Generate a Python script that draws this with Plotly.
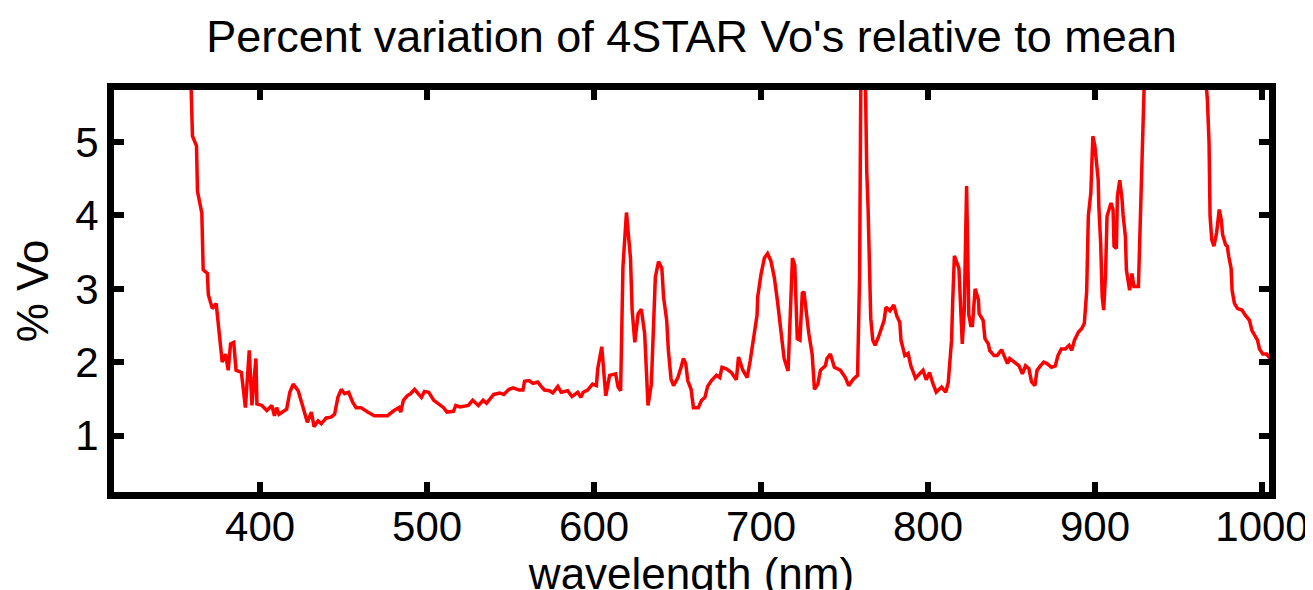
import plotly.graph_objects as go

# wavelength (nm) and percent variation of Vo
wavelength = [
    356.1, 358.6, 359.5, 361.9, 362.5, 365.1, 365.9, 368.4, 369.0, 371.4,
    373.7, 375.3, 377.3, 379.3, 380.9, 382.3, 384.2, 385.6, 388.8, 391.2,
    393.5, 395.1, 397.5, 398.1, 401.1, 404.0, 407.0, 408.6, 409.9, 411.3,
    415.9, 417.8, 419.8, 422.8, 425.8, 428.3, 430.7, 432.3, 434.7, 436.6,
    439.6, 442.5, 444.6, 446.6, 448.6, 450.6, 453.0, 455.5, 457.5, 460.4,
    464.4, 468.4, 472.3, 476.3, 480.2, 483.2, 484.2, 485.8, 488.1, 490.1,
    492.5, 495.1, 496.6, 498.4, 501.0, 504.0, 506.9, 509.9, 511.9, 515.8,
    517.2, 519.7, 524.7, 527.3, 530.7, 533.6, 535.6, 539.9, 543.5, 545.9,
    549.1, 551.5, 555.1, 557.4, 558.4, 561.0, 563.4, 566.3, 568.3, 570.3,
    573.3, 575.3, 578.3, 580.3, 584.2, 586.8, 590.2, 592.1, 593.5, 596.1,
    599.1, 601.4, 602.2, 604.6, 607.0, 609.3, 612.9, 614.4, 615.9, 617.3,
    619.4, 621.8, 622.8, 624.4, 626.4, 628.3, 630.3, 631.2, 632.3, 634.3,
    635.6, 636.7, 638.6, 640.6, 641.6, 643.5, 644.5, 646.1, 647.6, 650.2,
    652.1, 653.5, 654.9, 656.1, 658.1, 659.5, 662.4, 664.4, 666.4, 668.0,
    670.3, 673.3, 675.3, 676.6, 679.2, 682.2, 685.2, 686.5, 689.1, 691.7,
    693.5, 695.6, 697.6, 698.0, 700.0, 702.0, 703.9, 705.9, 707.9, 709.9,
    711.9, 713.8, 716.2, 717.8, 718.8, 720.2, 721.7, 723.3, 724.7, 725.7,
    728.6, 730.6, 732.0, 734.0, 735.6, 738.5, 739.5, 741.5, 743.9, 747.5,
    750.5, 752.5, 755.4, 757.8, 759.0, 759.8, 761.1, 762.4, 763.0, 763.3,
    764.1, 764.9, 765.7, 766.9, 768.3, 770.3, 772.2, 773.7, 774.8, 777.2,
    779.5, 781.3, 783.1, 783.8, 786.1, 788.1, 789.7, 792.5, 795.3, 797.0,
    798.9, 800.9, 802.9, 804.9, 808.1, 810.6, 812.1, 814.1, 814.8, 815.8,
    818.5, 820.5, 821.7, 823.1, 824.4, 825.6, 826.6, 828.2, 830.2, 830.6,
    833.0, 834.1, 836.1, 836.9, 839.5, 841.4, 844.0, 846.0, 847.6, 848.9,
    851.5, 854.5, 856.5, 858.4, 860.4, 862.0, 864.0, 865.3, 867.3, 869.3,
    871.3, 873.9, 876.2, 877.8, 879.8, 882.2, 884.5, 886.1, 887.7, 890.1,
    892.1, 893.6, 895.0, 896.0, 897.5, 898.7, 899.9, 901.9, 902.3, 903.4,
    904.3, 905.2, 906.3, 907.2, 909.6, 910.8, 911.4, 912.8, 913.4, 914.8,
    916.2, 916.8, 918.2, 918.8, 920.7, 922.1, 923.3, 926.0, 927.2, 928.6,
    929.6, 936.8, 946.8, 956.9, 965.7, 967.3, 968.3, 968.9, 969.9, 971.2,
    972.8, 974.4, 975.6, 976.4, 978.2, 979.2, 980.1, 981.5, 982.1, 983.5,
    985.4, 988.0, 990.0, 992.5, 994.0, 995.9, 997.3, 998.5, 1000.5, 1002.8,
    1004.8,
]
pct_vo = [
    6.5, 5.8, 5.08, 4.95, 4.33, 4.03, 3.26, 3.21, 2.92, 2.73,
    2.80, 2.41, 2.00, 2.11, 1.89, 2.25, 2.27, 1.89, 1.86, 1.38,
    2.16, 1.41, 2.05, 1.43, 1.41, 1.34, 1.41, 1.27, 1.38, 1.29,
    1.36, 1.59, 1.70, 1.61, 1.38, 1.18, 1.32, 1.12, 1.20, 1.16,
    1.24, 1.25, 1.29, 1.52, 1.63, 1.57, 1.59, 1.45, 1.38, 1.38,
    1.32, 1.27, 1.27, 1.27, 1.34, 1.38, 1.32, 1.48, 1.54, 1.57,
    1.63, 1.57, 1.52, 1.60, 1.59, 1.48, 1.43, 1.38, 1.32, 1.33,
    1.41, 1.39, 1.41, 1.48, 1.41, 1.48, 1.44, 1.56, 1.58, 1.56,
    1.63, 1.65, 1.62, 1.62, 1.74, 1.75, 1.71, 1.73, 1.67, 1.62,
    1.61, 1.58, 1.67, 1.59, 1.61, 1.53, 1.59, 1.52, 1.59, 1.62,
    1.70, 1.68, 1.91, 2.21, 1.54, 1.82, 1.84, 1.66, 1.61, 3.30,
    4.04, 3.42, 2.71, 2.27, 2.66, 2.72, 2.39, 1.84, 1.41, 1.70,
    2.48, 3.16, 3.37, 3.28, 2.89, 2.57, 2.16, 1.77, 1.68, 1.79,
    1.93, 2.05, 1.98, 1.75, 1.63, 1.38, 1.38, 1.48, 1.52, 1.67,
    1.75, 1.82, 1.79, 1.93, 1.91, 1.86, 1.76, 2.07, 1.89, 1.79,
    2.02, 2.34, 2.64, 2.89, 3.20, 3.42, 3.48, 3.38, 3.16, 2.82,
    2.40, 2.05, 1.88, 2.80, 3.42, 3.32, 2.32, 2.30, 2.94, 2.96,
    2.39, 2.11, 1.63, 1.70, 1.89, 1.95, 2.05, 2.11, 1.93, 1.89,
    1.79, 1.68, 1.77, 1.82, 3.16, 6.0, 7.5, 6.0, 4.99, 4.6,
    4.1, 3.5, 2.6, 2.3, 2.23, 2.34, 2.48, 2.57, 2.75, 2.70,
    2.78, 2.63, 2.54, 2.30, 2.09, 2.12, 1.95, 1.78, 1.85, 1.89,
    1.76, 1.86, 1.71, 1.59, 1.66, 1.59, 1.72, 2.30, 2.85, 3.45,
    3.28, 2.25, 2.71, 4.40, 2.65, 2.50, 2.50, 3.00, 2.85, 2.66,
    2.57, 2.32, 2.25, 2.16, 2.09, 2.09, 2.17, 2.07, 1.98, 2.05,
    2.00, 1.95, 1.84, 1.95, 1.91, 1.73, 1.68, 1.89, 1.95, 2.00,
    1.98, 1.93, 1.95, 2.09, 2.18, 2.18, 2.23, 2.16, 2.30, 2.41,
    2.46, 2.53, 2.96, 3.99, 4.31, 5.08, 4.95, 4.49, 4.12, 3.62,
    2.89, 2.71, 3.2, 3.99, 4.17, 4.08, 3.58, 3.55, 4.26, 4.48,
    4.22, 4.01, 3.71, 3.26, 2.98, 3.21, 3.03, 3.03, 3.99, 4.99,
    5.9, 8.0, 9.5, 8.5, 5.9, 5.58, 4.99, 3.99, 3.67, 3.58,
    3.76, 4.08, 3.94, 3.74, 3.60, 3.58, 3.44, 3.28, 2.98, 2.80,
    2.73, 2.71, 2.64, 2.57, 2.43, 2.34, 2.30, 2.18, 2.11, 2.11,
    2.05,
]

x_ticks = [400, 500, 600, 700, 800, 900, 1000]
y_ticks = [1, 2, 3, 4, 5]

fig = go.Figure()
fig.add_trace(go.Scatter(x=wavelength, y=pct_vo, mode="lines",
                         line=dict(color="#ff0000", width=3.5), showlegend=False))

axis_style = dict(showline=True, linecolor="black", linewidth=7, mirror="ticks",
                  ticks="inside", ticklen=10, tickwidth=6, tickcolor="black",
                  showgrid=False, zeroline=False,
                  tickfont=dict(family="Liberation Sans, Arial", size=42, color="black"))

fig.update_layout(
    width=1313, height=590,
    margin=dict(l=104, r=44, t=82, b=106),
    paper_bgcolor="white", plot_bgcolor="white",
    font=dict(family="Liberation Sans, Arial", color="black"),
    title=dict(text="Percent variation of 4STAR Vo's relative to mean",
               x=0.5, xref="paper", y=0.952, yanchor="middle",
               font=dict(size=45, color="black")),
    xaxis=dict(range=[312.5, 1004.2], tickvals=x_ticks, ticklabelstandoff=-8,
               title=dict(text="wavelength (nm)", font=dict(size=44), standoff=2),
               **axis_style),
    yaxis=dict(range=[0.23, 5.71], tickvals=y_ticks,
               title=dict(text="% Vo", font=dict(size=44), standoff=24),
               **axis_style),
)

fig.write_html("out.html")
